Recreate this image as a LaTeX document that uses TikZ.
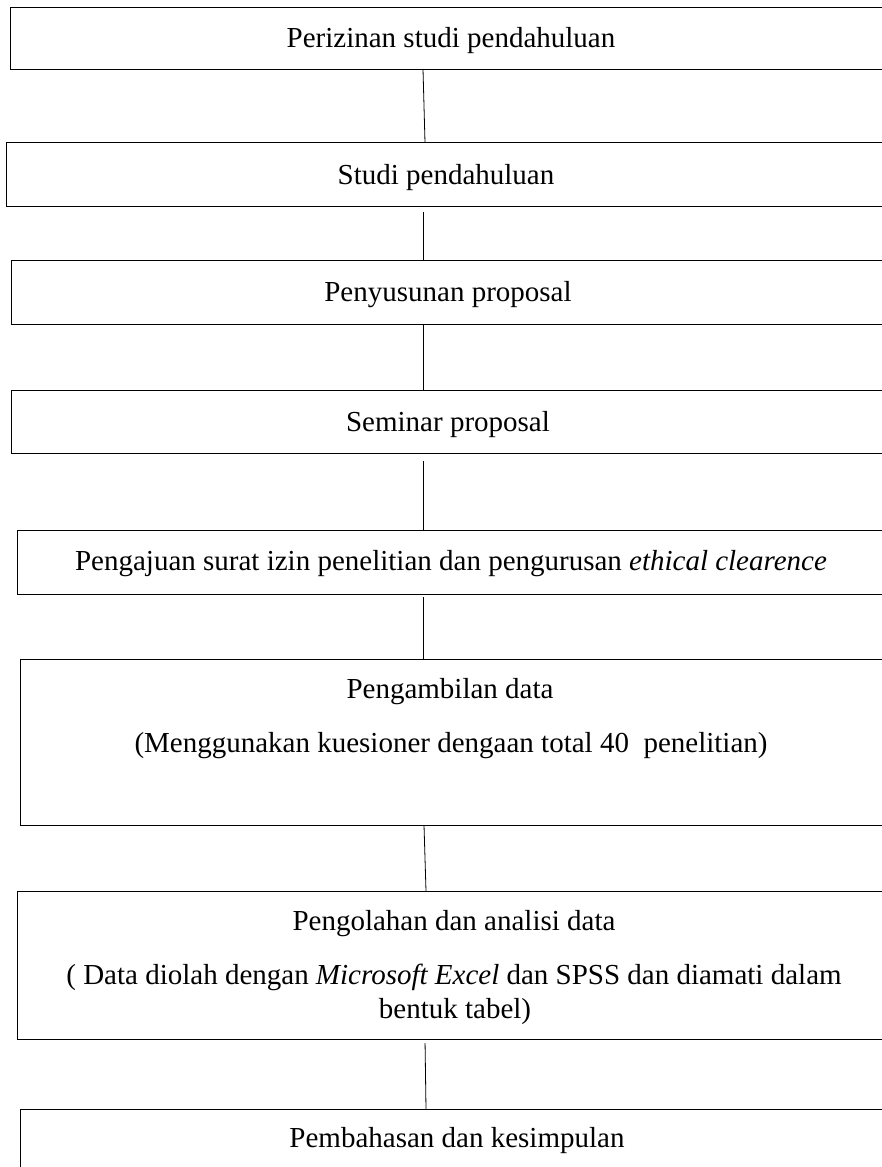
\documentclass[tikz,border=0pt]{standalone}
\usepackage{fontspec}
\setmainfont{Liberation Serif}
\usetikzlibrary{calc}
\begin{document}
\begin{tikzpicture}[x=1pt,y=-1pt,
  box/.style={draw=black, line width=1pt, inner sep=0pt, outer sep=0pt},
  lbl/.style={anchor=base, inner sep=0pt, font=\fontsize{29}{35}\selectfont},
  conn/.style={draw=black, line width=0.8pt}]
\useasboundingbox (0,0) rectangle (882,1167);
\coordinate (sp) at (423,0);
% boxes
\node[box, minimum width=882pt, minimum height=62pt]   (b1) at (451,38) {};
\node[box, minimum width=886pt, minimum height=64pt]   (b2) at (449,174.7) {};
\node[box, minimum width=881pt, minimum height=63.6pt] (b3) at (451.5,292.5) {};
\node[box, minimum width=881pt, minimum height=63.3pt] (b4) at (451.5,422.3) {};
\node[box, minimum width=875pt, minimum height=63.6pt] (b5) at (454.5,562.5) {};
\node[box, minimum width=872pt, minimum height=165.7pt] (b6) at (456,742.2) {};
\node[box, minimum width=875pt, minimum height=148pt]  (b7) at (454.5,965) {};
\node[box, minimum width=872pt, minimum height=80.7pt] (b8) at (456,1149.7) {};
% texts
\node[lbl] (t1) at (451,47) {Perizinan studi pendahuluan};
\node[lbl] (t2) at (446,184) {Studi pendahuluan};
\node[lbl] (t3) at (448,301.5) {Penyusunan proposal};
\node[lbl] (t4) at (448,431) {Seminar proposal};
\node[lbl] (t5) at (451,570) {Pengajuan surat izin penelitian dan pengurusan \textit{ethical clearence}};
\node[lbl] (t6a) at (450,698) {Pengambilan data};
\node[lbl] (t6b) at (451,752) {(Menggunakan kuesioner dengaan total 40\ \ penelitian)};
\node[lbl] (t7a) at (454,930) {Pengolahan dan analisi data};
\node[lbl] (t7b) at (454,984) {(\ Data diolah dengan \textit{Microsoft Excel} dan SPSS dan diamati dalam};
\node[lbl] (t7c) at (455,1018) {bentuk tabel)};
\node[lbl] (t8) at (457,1147) {Pembahasan dan kesimpulan};
% connectors
\draw[conn] (b1.south -| sp) -- ($(b2.north -| sp)+(2,0)$);
\draw[conn, shorten <=5pt] (b2.south -| sp) -- (b3.north -| sp);
\draw[conn] (b3.south -| sp) -- (b4.north -| sp);
\draw[conn, shorten <=7pt] (b4.south -| sp) -- (b5.north -| sp);
\draw[conn, shorten <=3pt] (b5.south -| sp) -- (b6.north -| sp);
\draw[conn] ($(b6.south -| sp)+(1,0)$) -- ($(b7.north -| sp)+(3,0)$);
\draw[conn, shorten <=4pt] ($(b7.south -| sp)+(2,0)$) -- ($(b8.north -| sp)+(3,0)$);
\end{tikzpicture}
\end{document}
